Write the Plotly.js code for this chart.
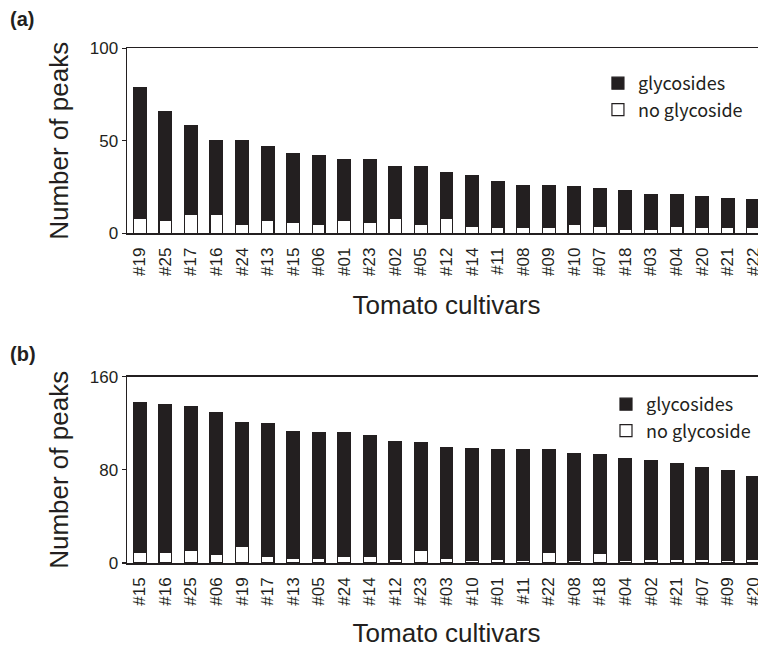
<!DOCTYPE html>
<html>
<head>
<meta charset="utf-8">
<script src="https://cdn.plot.ly/plotly-3.0.1.min.js"></script>
<style>
html,body{margin:0;padding:0;overflow:hidden;background:#fff;width:758px;height:648px;}
#chart{width:772px;height:648px;}
</style>
</head>
<body>
<div id="chart"></div>
<script>
// Panel (a)
const catsA = ["#19","#25","#17","#16","#24","#13","#15","#06","#01","#23","#02","#05","#12","#14","#11","#08","#09","#10","#07","#18","#03","#04","#20","#21","#22"];
const noGlyA = [8,7,10,10,5,7,6,5,7,6,8,5,8,4,3,3,3,5,4,2,2,4,3,3,3];
const glyA   = [71,59,48,40,45,40,37,37,33,34,28,31,25,27,25,23,23,20,20,21,19,17,17,16,15];
// Panel (b)
const catsB = ["#15","#16","#25","#06","#19","#17","#13","#05","#24","#14","#12","#23","#03","#10","#01","#11","#22","#08","#18","#04","#02","#21","#07","#09","#20"];
const noGlyB = [9,9,11,7,14,6,4,4,6,6,3,11,4,2,3,2,9,2,8,2,3,3,3,2,3];
const glyB   = [129,127,123,122,107,114,109,108,106,103,101,92,95,96,94,95,88,92,85,88,85,82,79,77,71];

const ink = '#231f20';
const W = 772, H = 648;
const SANS = "'Liberation Sans', Arial, Helvetica, sans-serif";

function bar(x, y, name, fill, xa, ya, leg) {
  return {
    type: 'bar', x: x, y: y, name: name, xaxis: xa, yaxis: ya, legend: leg,
    marker: {color: fill, line: {color: ink, width: 1.2}},
    width: 0.5, hoverinfo: 'x+y+name'
  };
}

const data = [
  bar(catsA, noGlyA, 'no glycoside', '#ffffff', 'x', 'y', 'legend'),
  bar(catsA, glyA, 'glycosides', ink, 'x', 'y', 'legend'),
  bar(catsB, noGlyB, 'no glycoside', '#ffffff', 'x2', 'y2', 'legend2'),
  bar(catsB, glyB, 'glycosides', ink, 'x2', 'y2', 'legend2')
];

const tickFont = {family: SANS, size: 17, color: ink};
const titleFont = {family: SANS, size: 26, color: ink};

function xax(anchor) {
  return {
    anchor: anchor, domain: [0, 1], type: 'category',
    range: [-0.5, 24.5],
    showline: true, mirror: true, linecolor: ink, linewidth: 1.5,
    ticks: '', tickangle: -90, tickfont: tickFont, ticklabelstandoff: 6,
    showgrid: false, zeroline: false,
    title: {text: 'Tomato cultivars', font: titleFont, standoff: 21}
  };
}
function yax(anchor, dom, max, dtick) {
  return {
    anchor: anchor, domain: dom, range: [0, max], tickmode: 'linear', tick0: 0, dtick: dtick,
    showline: true, linecolor: ink, linewidth: 1.5,
    ticks: 'outside', ticklen: 4, tickwidth: 1.2, tickcolor: ink,
    tickfont: tickFont, showgrid: false, zeroline: false,
    title: {text: 'Number of peaks', font: titleFont, standoff: 13}
  };
}
const legFont = {family: "'Noto Sans CJK JP', 'Noto Sans', sans-serif", size: 18, color: ink};

const layout = {
  width: W, height: H,
  margin: {l: 127, r: 6, t: 0, b: 0},
  paper_bgcolor: '#fff', plot_bgcolor: '#fff',
  barmode: 'stack',
  showlegend: true,
  xaxis: xax('y'),
  yaxis: yax('x', [1 - 233.3/H, 1 - 48.3/H], 100, 50),
  xaxis2: xax('y2'),
  yaxis2: yax('x2', [1 - 563/H, 1 - 376.7/H], 160, 80),
  legend: {x: 0.737, y: 1 - 65/H, xanchor: 'left', yanchor: 'top', font: legFont,
           traceorder: 'reversed', bgcolor: 'rgba(0,0,0,0)', itemwidth: 30, tracegroupgap: 0},
  legend2: {x: 0.7496, y: 1 - 386/H, xanchor: 'left', yanchor: 'top', font: legFont,
            traceorder: 'reversed', bgcolor: 'rgba(0,0,0,0)', itemwidth: 30, tracegroupgap: 0},
  annotations: [
    {text: '<b>(a)</b>', xref: 'paper', yref: 'paper', x: -127/639, y: 1 - 6/H, xanchor: 'left', yanchor: 'top',
     showarrow: false, font: {family: SANS, size: 20, color: ink}, xshift: 8},
    {text: '<b>(b)</b>', xref: 'paper', yref: 'paper', x: -127/639, y: 1 - 341/H, xanchor: 'left', yanchor: 'top',
     showarrow: false, font: {family: SANS, size: 20, color: ink}, xshift: 8}
  ]
};

Plotly.newPlot('chart', data, layout, {displayModeBar: false, staticPlot: true});
</script>
</body>
</html>
